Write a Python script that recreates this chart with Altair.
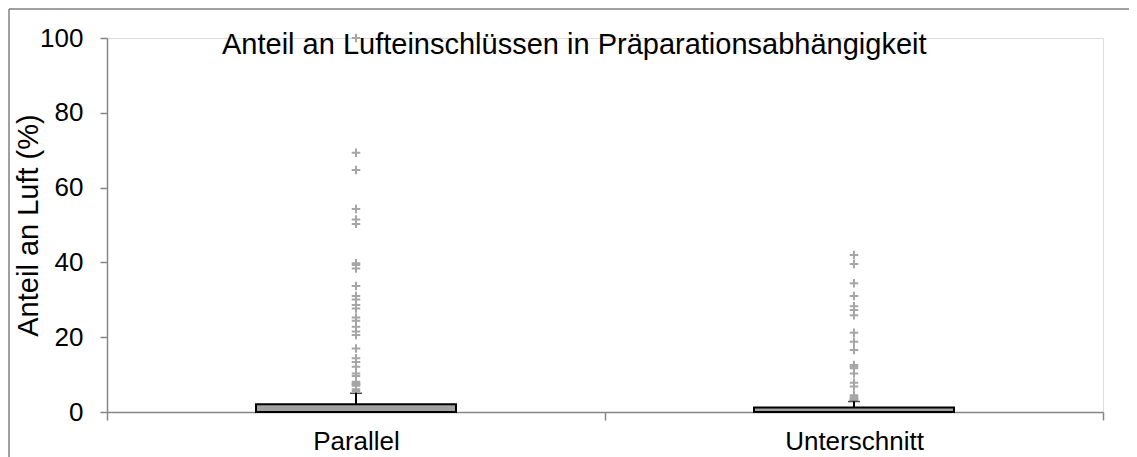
import altair as alt
import pandas as pd

# ---- data ----
categories = ["Parallel", "Unterschnitt"]
box_q1 = [0.0, 0.0]
box_q3 = [2.1, 1.2]
whisker_top = [5.0, 2.8]

parallel_outliers = [100.0, 69.3, 64.7, 54.3, 51.5, 50.3, 39.8, 39.3, 38.4, 33.7,
                     31.0, 30.1, 28.6, 27.7, 25.3, 24.4, 22.8, 21.5, 20.6, 17.0,
                     14.4, 13.4, 12.1, 10.3, 9.6, 8.1, 7.8, 7.5, 7.3, 7.0, 6.1, 5.6]
unterschnitt_outliers = [42.0, 39.6, 34.4, 31.0, 28.3, 27.3, 25.9, 21.2, 18.8, 16.6,
                         12.6, 12.1, 11.7, 10.3, 7.8, 6.8, 4.5, 4.1, 3.7, 3.4, 3.2]

chart_title = "Anteil an Lufteinschlüssen in Präparationsabhängigkeit"
y_title = "Anteil an Luft (%)"
y_ticks = [0, 20, 40, 60, 80, 100]

FONT = "Liberation Sans"
AXIS_GRAY = "#868686"
POINT_GRAY = "#a6a6a6"
BOX_FILL = "#a0a0a0"

box_df = pd.DataFrame({"cat": categories, "q1": box_q1, "q3": box_q3, "wt": whisker_top})
out_df = pd.DataFrame({
    "cat": ["Parallel"] * len(parallel_outliers) + ["Unterschnitt"] * len(unterschnitt_outliers),
    "v": parallel_outliers + unterschnitt_outliers,
})

x_scale = alt.Scale(domain=categories, paddingInner=0, paddingOuter=0)
y_scale = alt.Scale(domain=[0, 100], nice=False, zero=True)

x_axis = alt.Axis(
    title=None, tickBand="extent", labelFont=FONT, labelFontSize=26, labelColor="black",
    labelPadding=8, tickSize=8, tickColor=AXIS_GRAY, tickWidth=1.5,
    domainColor=AXIS_GRAY, domainWidth=1.5, grid=False, labelAngle=0,
)
y_axis = alt.Axis(
    values=y_ticks, title=y_title, titleFont=FONT, titleFontSize=29, titleFontWeight="normal",
    titleColor="black", titleAngle=270, titleX=-79, titleY=187, titleAlign="center",
    titleBaseline="middle",
    labelFont=FONT, labelFontSize=26, labelColor="black", labelPadding=17,
    tickSize=7, tickColor=AXIS_GRAY, tickWidth=1.5,
    domainColor=AXIS_GRAY, domainWidth=1.5, grid=False,
)

frame_df = pd.DataFrame({"a": [0]})
border_top = alt.Chart(frame_df).mark_rule(color="#808080", strokeWidth=1.5).encode(
    x=alt.value(-98), x2=alt.value(1200), y=alt.value(-29)
)
border_left = alt.Chart(frame_df).mark_rule(color="#808080", strokeWidth=1.5).encode(
    x=alt.value(-98), y=alt.value(-29), y2=alt.value(600)
)

points = alt.Chart(out_df).mark_point(
    shape="M-1,0L1,0M0,-1L0,1", filled=False, size=72, strokeWidth=2,
    color=POINT_GRAY, opacity=1,
).encode(
    x=alt.X("cat:N", scale=x_scale, axis=x_axis),
    y=alt.Y("v:Q", scale=y_scale, axis=y_axis),
)

whisker = alt.Chart(box_df).mark_rule(color="black", strokeWidth=2).encode(
    x=alt.X("cat:N", scale=x_scale, axis=x_axis),
    y=alt.Y("q3:Q", scale=y_scale, axis=y_axis),
    y2="wt:Q",
)

cap = alt.Chart(box_df).mark_tick(color="black", size=12, thickness=1.5).encode(
    x=alt.X("cat:N", scale=x_scale, axis=x_axis),
    y=alt.Y("wt:Q", scale=y_scale, axis=y_axis),
)

box = alt.Chart(box_df).mark_bar(
    size=200, color=BOX_FILL, stroke="black", strokeWidth=2
).encode(
    x=alt.X("cat:N", scale=x_scale, axis=x_axis),
    y=alt.Y("q1:Q", scale=y_scale, axis=y_axis),
    y2="q3:Q",
)

title = alt.Chart(pd.DataFrame({"t": [chart_title]})).mark_text(
    align="left", baseline="alphabetic", font=FONT, fontSize=29, color="black"
).encode(x=alt.value(115), y=alt.value(16), text="t:N")

chart = alt.layer(border_top, border_left, points, whisker, cap, box, title).properties(
    width=996, height=374,
    autosize=alt.AutoSizeParams(type="none"),
    padding={"left": 99, "top": 30, "right": 26, "bottom": 48},
).configure_view(stroke=None).configure(background="white")

chart.save("out.html", embed_options={"renderer": "svg", "actions": False})
